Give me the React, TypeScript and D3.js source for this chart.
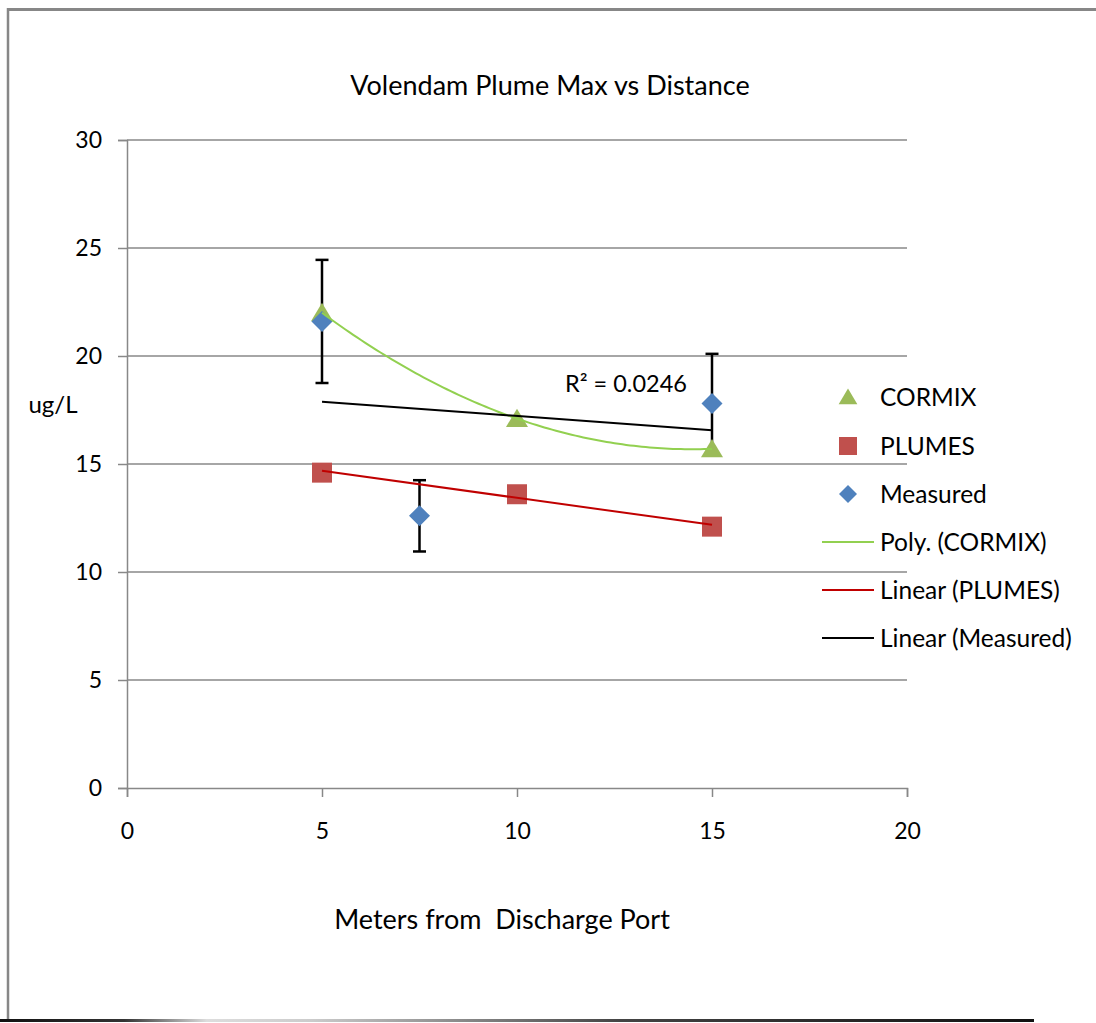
import React, { useEffect, useRef } from 'react';
import * as d3 from 'd3';

// data
const cormixX = [5, 10, 15];
const cormixY = [22.0, 17.1, 15.7];
const plumesX = [5, 10, 15];
const plumesY = [14.6, 13.6, 12.1];
const measuredX = [5, 7.5, 15];
const measuredY = [21.6, 12.6, 17.8];
const measuredErr = [2.85, 1.65, 2.3];
const xTicks = [0, 5, 10, 15, 20];
const yTicks = [0, 5, 10, 15, 20, 25, 30];
const legendLabels = ['CORMIX', 'PLUMES', 'Measured', 'Poly. (CORMIX)', 'Linear (PLUMES)', 'Linear (Measured)'];

const FONT = 'Lato, "Open Sans", sans-serif';

const linearFit = (xs: number[], ys: number[]) => {
  const mx = d3.mean(xs)!, my = d3.mean(ys)!;
  const sxy = d3.sum(xs, (x, i) => (x - mx) * (ys[i] - my));
  const sxx = d3.sum(xs, x => (x - mx) ** 2);
  const slope = sxy / sxx;
  return (x: number) => my + slope * (x - mx);
};

// quadratic through three points (Lagrange form)
const polyFit = (xs: number[], ys: number[]) => (x: number) =>
  d3.sum(xs, (xi, i) => {
    let term = ys[i];
    xs.forEach((xj, j) => { if (j !== i) term *= (x - xj) / (xi - xj); });
    return term;
  });

const App = () => {
  const svgRef = useRef<SVGSVGElement>(null);

  useEffect(() => {
    const svg = d3.select(svgRef.current);
    svg.selectAll('*').remove();
    const width = 1096;

    // frame
    const grad = svg.append('defs').append('linearGradient')
      .attr('id', 'shadow').attr('x1', '0').attr('x2', '1').attr('y1', '0').attr('y2', '0');
    [[0, '#111'], [0.12, '#333'], [0.2, '#ddd'], [0.3, '#ccc'], [0.6, '#444'], [1, '#111']]
      .forEach(([o, c]) => grad.append('stop').attr('offset', o as number).attr('stop-color', c as string));
    svg.append('line').attr('x1', 8).attr('x2', width).attr('y1', 9.5).attr('y2', 9.5)
      .attr('stroke', '#878787').attr('stroke-width', 3);
    svg.append('line').attr('x1', 8).attr('x2', 8).attr('y1', 8).attr('y2', 1021)
      .attr('stroke', '#878787').attr('stroke-width', 2.5);
    svg.append('rect').attr('x', 0).attr('y', 1019).attr('width', 1034).attr('height', 3)
      .attr('fill', 'url(#shadow)');

    const x = d3.scaleLinear().domain([0, 20]).range([127, 907]);
    const y = d3.scaleLinear().domain([0, 30]).range([788, 140]);

    // gridlines
    svg.append('g').selectAll('line').data(yTicks.filter(t => t > 0)).join('line')
      .attr('x1', x(0)).attr('x2', x(20)).attr('y1', d => y(d)).attr('y2', d => y(d))
      .attr('stroke', '#888').attr('stroke-width', 1.5);

    // y axis
    const yAxis = svg.append('g').attr('transform', `translate(${x(0)},0)`)
      .call(d3.axisLeft(y).tickValues(yTicks).tickSize(9).tickPadding(16));
    yAxis.select('.domain').attr('stroke', '#888').attr('stroke-width', 1.5);
    yAxis.selectAll('.tick line').attr('stroke', '#888').attr('stroke-width', 1.5);
    yAxis.selectAll('text').attr('font-family', FONT).attr('font-size', 23).attr('fill', '#000');

    // x axis
    const xAxis = svg.append('g').attr('transform', `translate(0,${y(0)})`)
      .call(d3.axisBottom(x).tickValues(xTicks).tickSize(9).tickPadding(26));
    xAxis.select('.domain').attr('stroke', '#888').attr('stroke-width', 1.5);
    xAxis.selectAll('.tick line').attr('stroke', '#888').attr('stroke-width', 1.5);
    xAxis.selectAll('text').attr('font-family', FONT).attr('font-size', 23).attr('fill', '#000');

    // error bars on measured
    const eb = svg.append('g').attr('stroke', '#000').attr('stroke-width', 2.5);
    measuredX.forEach((mx, i) => {
      const top = y(measuredY[i] + measuredErr[i]);
      const bot = y(measuredY[i] - measuredErr[i]);
      eb.append('line').attr('x1', x(mx)).attr('x2', x(mx)).attr('y1', top).attr('y2', bot);
      eb.append('line').attr('x1', x(mx) - 6.5).attr('x2', x(mx) + 6.5).attr('y1', top).attr('y2', top);
      eb.append('line').attr('x1', x(mx) - 6.5).attr('x2', x(mx) + 6.5).attr('y1', bot).attr('y2', bot);
    });

    const tri = (s: number) => `M0,${-s * 0.5}L${s * 0.55},${s * 0.42}L${-s * 0.55},${s * 0.42}Z`;
    const sq = (s: number) => `M${-s / 2},${-s / 2}h${s}v${s}h${-s}Z`;
    const dia = (s: number) => `M0,${-s / 2}L${s / 2},0L0,${s / 2}L${-s / 2},0Z`;

    // markers
    svg.append('g').selectAll('path').data(cormixX).join('path')
      .attr('transform', (d, i) => `translate(${x(d)},${y(cormixY[i])})`)
      .attr('d', tri(20)).attr('fill', '#9BBB59');
    svg.append('g').selectAll('path').data(plumesX).join('path')
      .attr('transform', (d, i) => `translate(${x(d)},${y(plumesY[i])})`)
      .attr('d', sq(20)).attr('fill', '#C0504D');
    svg.append('g').selectAll('path').data(measuredX).join('path')
      .attr('transform', (d, i) => `translate(${x(d)},${y(measuredY[i])})`)
      .attr('d', dia(21)).attr('fill', '#4F81BD');

    // trendlines
    const poly = polyFit(cormixX, cormixY);
    const polyPts = d3.range(0, 101).map(k => 5 + k * 0.1);
    svg.append('path')
      .attr('d', d3.line<number>().x(d => x(d)).y(d => y(poly(d)))(polyPts))
      .attr('fill', 'none').attr('stroke', '#92D050').attr('stroke-width', 2);
    const linP = linearFit(plumesX, plumesY);
    svg.append('line').attr('x1', x(5)).attr('x2', x(15)).attr('y1', y(linP(5))).attr('y2', y(linP(15)))
      .attr('stroke', '#C00000').attr('stroke-width', 2);
    const linM = linearFit(measuredX, measuredY);
    svg.append('line').attr('x1', x(5)).attr('x2', x(15)).attr('y1', y(linM(5))).attr('y2', y(linM(15)))
      .attr('stroke', '#000').attr('stroke-width', 2);

    svg.append('text').attr('x', 565).attr('y', 392).text('R² = 0.0246')
      .attr('font-family', FONT).attr('font-size', 23.5);

    // titles
    svg.append('text').attr('x', 550).attr('y', 95).attr('text-anchor', 'middle')
      .attr('font-family', FONT).attr('font-size', 27).text('Volendam Plume Max vs Distance');
    svg.append('text').attr('x', 502).attr('y', 929).attr('text-anchor', 'middle')
      .attr('font-family', FONT).attr('font-size', 27).attr('xml:space', 'preserve')
      .text('Meters from  Discharge Port');
    svg.append('text').attr('x', 53).attr('y', 413).attr('text-anchor', 'middle')
      .attr('font-family', FONT).attr('font-size', 24).text('ug/L');

    // legend
    const rowY = [397, 446, 494, 542, 590, 638];
    const lg = svg.append('g');
    lg.selectAll('text').data(legendLabels).join('text')
      .attr('x', 880).attr('y', (d, i) => rowY[i]).attr('dy', '0.35em')
      .attr('font-family', FONT).attr('font-size', 24.5).text(d => d);
    lg.append('path').attr('transform', `translate(848,${rowY[0]})`).attr('d', tri(17)).attr('fill', '#9BBB59');
    lg.append('path').attr('transform', `translate(848,${rowY[1]})`).attr('d', sq(18)).attr('fill', '#C0504D');
    lg.append('path').attr('transform', `translate(848,${rowY[2]})`).attr('d', dia(18)).attr('fill', '#4F81BD');
    const lineColors = ['#92D050', '#C00000', '#000'];
    lineColors.forEach((c, i) => {
      lg.append('line').attr('x1', 822).attr('x2', 874).attr('y1', rowY[3 + i]).attr('y2', rowY[3 + i])
        .attr('stroke', c).attr('stroke-width', 2);
    });
  }, []);

  return (
    <svg ref={svgRef} width={1096} height={1023}
      style={{ position: 'absolute', left: 0, top: 0, background: '#fff' }} />
  );
};

export default App;
